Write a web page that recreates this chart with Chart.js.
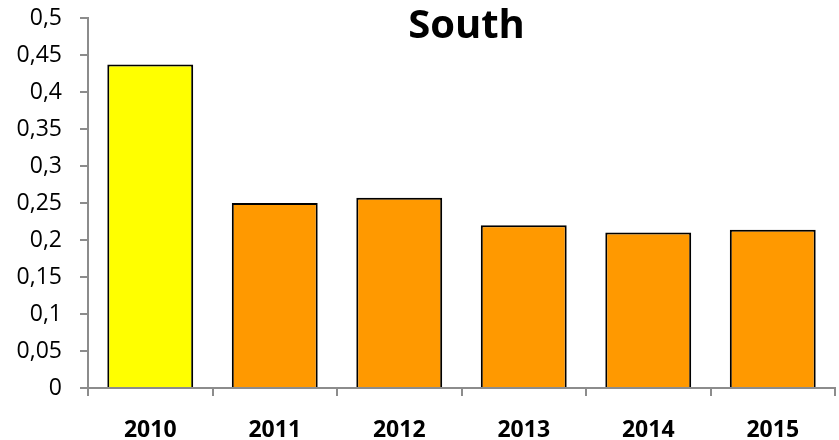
<!DOCTYPE html>
<html>
<head>
<meta charset="utf-8">
<script src="https://cdn.jsdelivr.net/npm/chart.js@4"></script>
<style>
  html, body { margin: 0; padding: 0; background: #fff; }
  #box { width: 839px; height: 440px; }
</style>
</head>
<body>
<div id="box"><canvas id="south"></canvas></div>
<script>
// years and values
let years = ["2010", "2011", "2012", "2013", "2014", "2015"];
let values = [0.437, 0.250, 0.257, 0.220, 0.210, 0.214];
let barColors = ["#FFFF00", "#FF9900", "#FF9900", "#FF9900", "#FF9900", "#FF9900"];
let chartTitle = "South";

Chart.defaults.font.family = "'Open Sans', sans-serif";
Chart.defaults.color = "#000";

// title drawn inside the top of the plot, like the original
const titleInside = {
    id: 'titleInside',
    afterDraw(chart) {
        const ctx = chart.ctx;
        const area = chart.chartArea;
        ctx.save();
        ctx.font = "bold 40px 'Open Sans', sans-serif";
        ctx.fillStyle = '#000';
        ctx.textAlign = 'center';
        ctx.textBaseline = 'middle';
        ctx.fillText(chartTitle, (area.left + area.right) / 2 + 5, area.top + 9);
        ctx.restore();
    }
};

const southPlot = new Chart("south", {
    type: 'bar',
    data: {
        labels: years,
        datasets: [{
            data: values,
            backgroundColor: barColors,
            borderColor: '#000',
            borderWidth: 2,
            borderSkipped: 'bottom',
            categoryPercentage: 0.69,
            barPercentage: 1
        }]
    },
    options: {
        responsive: true,
        maintainAspectRatio: false,
        animation: false,
        layout: {
            padding: { top: 18, right: 4, left: 0, bottom: 0 }
        },
        scales: {
            x: {
                grid: {
                    offset: true,
                    drawOnChartArea: false,
                    tickLength: 8,
                    color: '#8c8c8c',
                    lineWidth: 2
                },
                border: { color: '#8c8c8c', width: 2 },
                ticks: {
                    font: { size: 23, weight: 'bold' },
                    padding: 21,
                    color: '#000'
                },
                afterFit(scale) { scale.height = 52; }
            },
            y: {
                min: 0,
                max: 0.5,
                grid: {
                    drawOnChartArea: false,
                    tickLength: 8,
                    color: '#8c8c8c',
                    lineWidth: 2
                },
                border: { color: '#8c8c8c', width: 2 },
                ticks: {
                    stepSize: 0.05,
                    font: { size: 23 },
                    padding: 18,
                    color: '#000',
                    callback: v => String(Math.round(v * 100) / 100).replace('.', ',')
                },
                afterFit(scale) {
                    scale.width = 88;
                    // labels may overhang, plot starts where the original does
                    scale.paddingTop = 0;
                    scale.paddingBottom = 0;
                }
            }
        },
        plugins: {
            legend: { display: false },
            tooltip: { enabled: false },
            title: { display: false }
        }
    },
    plugins: [titleInside]
});
</script>
</body>
</html>
